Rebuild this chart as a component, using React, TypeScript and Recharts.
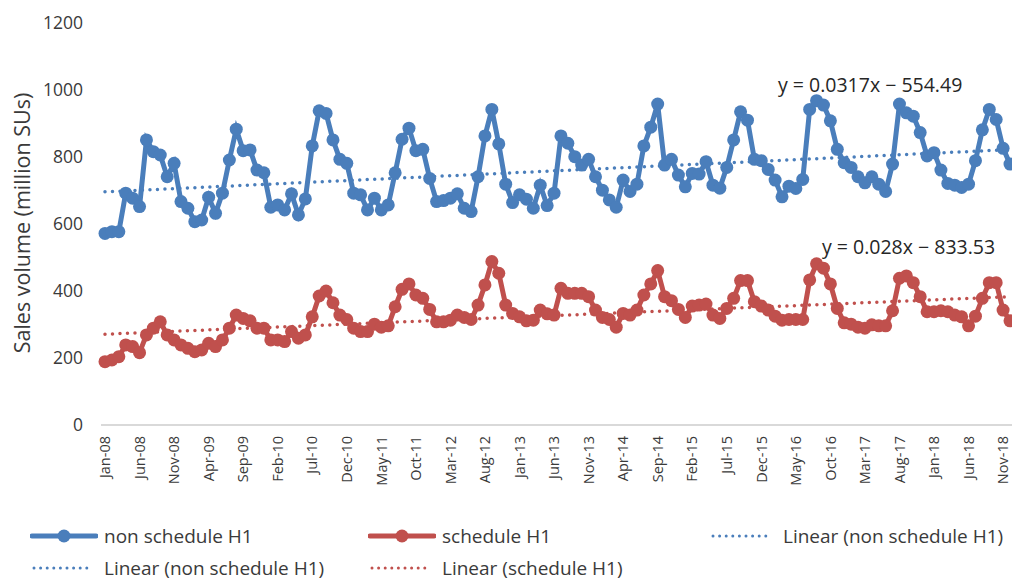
import { LineChart, Line, XAxis, YAxis } from 'recharts';

const MONTHS = ['Jan', 'Feb', 'Mar', 'Apr', 'May', 'Jun', 'Jul', 'Aug', 'Sep', 'Oct', 'Nov', 'Dec'];
const YEARS = ['08', '09', '10', '11', '12', '13', '14', '15', '16', '17', '18'];

// monthly sales volume, million SUs, Jan-08 .. Dec-18
const nonScheduleH1 = [
  572, 577, 577, 692, 677, 652, 851, 816, 806, 741, 781, 667,
  647, 607, 612, 680, 632, 692, 791, 883, 819, 821, 761, 753,
  650, 657, 642, 690, 627, 675, 833, 938, 930, 851, 793, 781,
  692, 687, 642, 677, 642, 657, 753, 853, 886, 819, 823, 736,
  667, 670, 677, 690, 647, 637, 741, 863, 942, 839, 719, 664,
  687, 674, 647, 716, 655, 692, 863, 841, 801, 776, 793, 741,
  701, 672, 650, 731, 697, 719, 833, 889, 958, 776, 793, 746,
  711, 751, 749, 786, 716, 707, 769, 851, 935, 910, 793, 789,
  763, 731, 681, 713, 706, 733, 942, 968, 955, 908, 823, 783,
  769, 741, 723, 741, 719, 697, 779, 958, 932, 922, 873, 803,
  813, 761, 721, 716, 709, 719, 789, 881, 942, 912, 826, 779,
];

const scheduleH1 = [
  189, 194, 204, 239, 234, 216, 269, 289, 308, 269, 254, 239,
  229, 219, 224, 244, 234, 254, 289, 328, 318, 311, 289, 289,
  254, 254, 249, 279, 259, 269, 323, 385, 400, 365, 328, 315,
  289, 279, 279, 301, 292, 296, 353, 405, 421, 388, 378, 345,
  308, 308, 313, 328, 321, 315, 358, 418, 488, 453, 358, 333,
  323, 311, 313, 343, 332, 328, 408, 393, 393, 393, 383, 343,
  321, 315, 292, 333, 328, 343, 388, 421, 461, 383, 371, 345,
  321, 355, 358, 361, 328, 318, 348, 378, 431, 431, 368, 355,
  343, 325, 313, 315, 315, 315, 433, 481, 468, 421, 348, 305,
  301, 292, 289, 299, 296, 296, 341, 438, 445, 425, 383, 338,
  338, 341, 338, 328, 323, 296, 325, 378, 425, 425, 343, 311,
];

// linear trendline end values (first and last month)
const trendNon = [696, 822];
const trendSch = [271, 383];
const trendLabels = ['y = 0.0317x − 554.49', 'y = 0.028x − 833.53'];

const yTicks = [0, 200, 400, 600, 800, 1000, 1200];

const BLUE = '#4a7ebb';
const RED = '#c0504d';
const TEXT = '#3a3a3a';
const FONT = '"Open Sans", sans-serif';

const categories = YEARS.flatMap((yr) => MONTHS.map((m) => `${m}-${yr}`));
const last = categories.length - 1;

const data = categories.map((month, i) => ({
  month,
  non: nonScheduleH1[i],
  sch: scheduleH1[i],
  nonTrend: i === 0 ? trendNon[0] : i === last ? trendNon[1] : null,
  schTrend: i === 0 ? trendSch[0] : i === last ? trendSch[1] : null,
}));

const XTick = ({ x, y, payload }: any) => (
  <text
    x={x}
    y={y}
    transform={`rotate(-90 ${x} ${y})`}
    textAnchor="end"
    dy="0.36em"
    fontSize={14.5}
    fontFamily={FONT}
    fill={TEXT}
  >
    {payload.value}
  </text>
);

const YTick = ({ x, y, payload }: any) => (
  <text x={x} y={y} dy="0.36em" textAnchor="end" fontSize={17.5} fontFamily={FONT} fill={TEXT}>
    {payload.value}
  </text>
);

const YTitle = () => (
  <text
    x={22}
    y={223}
    transform="rotate(-90 22 223)"
    textAnchor="middle"
    dy="0.36em"
    fontSize={21.5}
    fontFamily={FONT}
    fill={TEXT}
  >
    Sales volume (million SUs)
  </text>
);

function LegendIcon({ color, kind }: { color: string; kind: 'marker' | 'dotted' }) {
  if (kind === 'marker') {
    return (
      <svg width={68} height={16} style={{ display: 'block' }}>
        <line x1={2} y1={8} x2={66} y2={8} stroke={color} strokeWidth={5} strokeLinecap="round" />
        <circle cx={34} cy={8} r={6.5} fill={color} />
      </svg>
    );
  }
  return (
    <svg width={68} height={16} style={{ display: 'block' }}>
      <line x1={4} y1={8} x2={60} y2={8} stroke={color} strokeWidth={3} strokeDasharray="0 6.6" strokeLinecap="round" />
    </svg>
  );
}

const legendItems = [
  { label: 'non schedule H1', color: BLUE, kind: 'marker', x: 30, y: 536 },
  { label: 'schedule H1', color: RED, kind: 'marker', x: 368, y: 536 },
  { label: 'Linear (non schedule H1)', color: BLUE, kind: 'dotted', x: 709, y: 536 },
  { label: 'Linear (non schedule H1)', color: BLUE, kind: 'dotted', x: 30, y: 568 },
  { label: 'Linear (schedule H1)', color: RED, kind: 'dotted', x: 368, y: 568 },
] as const;

export default function App() {
  return (
    <div
      style={{
        position: 'absolute',
        left: 0,
        top: 0,
        width: 1012,
        height: 580,
        overflow: 'hidden',
        background: '#fff',
        fontFamily: FONT,
      }}
    >
      <LineChart width={1014} height={500} data={data} margin={{ top: 23, right: 0, bottom: 0, left: 0 }}>
        <XAxis
          dataKey="month"
          interval={4}
          tickLine={false}
          tickMargin={5}
          height={75}
          padding={{ left: 4, right: 4 }}
          axisLine={{ stroke: '#d9d9d9', strokeWidth: 2 }}
          tick={<XTick />}
        />
        <YAxis
          width={101}
          domain={[0, 1200]}
          ticks={yTicks}
          axisLine={false}
          tickLine={false}
          tickMargin={12}
          tick={<YTick />}
          label={<YTitle />}
        />
        <Line
          dataKey="non"
          stroke={BLUE}
          strokeWidth={5}
          dot={{ r: 6.5, fill: BLUE, stroke: BLUE, strokeWidth: 0 }}
          activeDot={false}
          isAnimationActive={false}
        />
        <Line
          dataKey="sch"
          stroke={RED}
          strokeWidth={5}
          dot={{ r: 6.5, fill: RED, stroke: RED, strokeWidth: 0 }}
          activeDot={false}
          isAnimationActive={false}
        />
        <Line
          dataKey="nonTrend"
          connectNulls
          stroke={BLUE}
          strokeWidth={3.5}
          strokeDasharray="0 7.5"
          strokeLinecap="round"
          dot={false}
          activeDot={false}
          isAnimationActive={false}
        />
        <Line
          dataKey="schTrend"
          connectNulls
          stroke={RED}
          strokeWidth={3.5}
          strokeDasharray="0 7.5"
          strokeLinecap="round"
          dot={false}
          activeDot={false}
          isAnimationActive={false}
        />
      </LineChart>

      <div style={{ position: 'absolute', left: 778, top: 93, transform: 'translateY(-80%)', fontSize: 19.5, color: '#262626', whiteSpace: 'nowrap' }}>
        {trendLabels[0]}
      </div>
      <div style={{ position: 'absolute', left: 822, top: 255, transform: 'translateY(-80%)', fontSize: 19.5, color: '#262626', whiteSpace: 'nowrap' }}>
        {trendLabels[1]}
      </div>

      {legendItems.map((it, i) => (
        <div
          key={i}
          style={{
            position: 'absolute',
            left: it.x,
            top: it.y - 13,
            height: 26,
            display: 'flex',
            alignItems: 'center',
            gap: 6,
            fontSize: 19,
            color: TEXT,
            whiteSpace: 'nowrap',
          }}
        >
          <LegendIcon color={it.color} kind={it.kind} />
          <span>{it.label}</span>
        </div>
      ))}
    </div>
  );
}
